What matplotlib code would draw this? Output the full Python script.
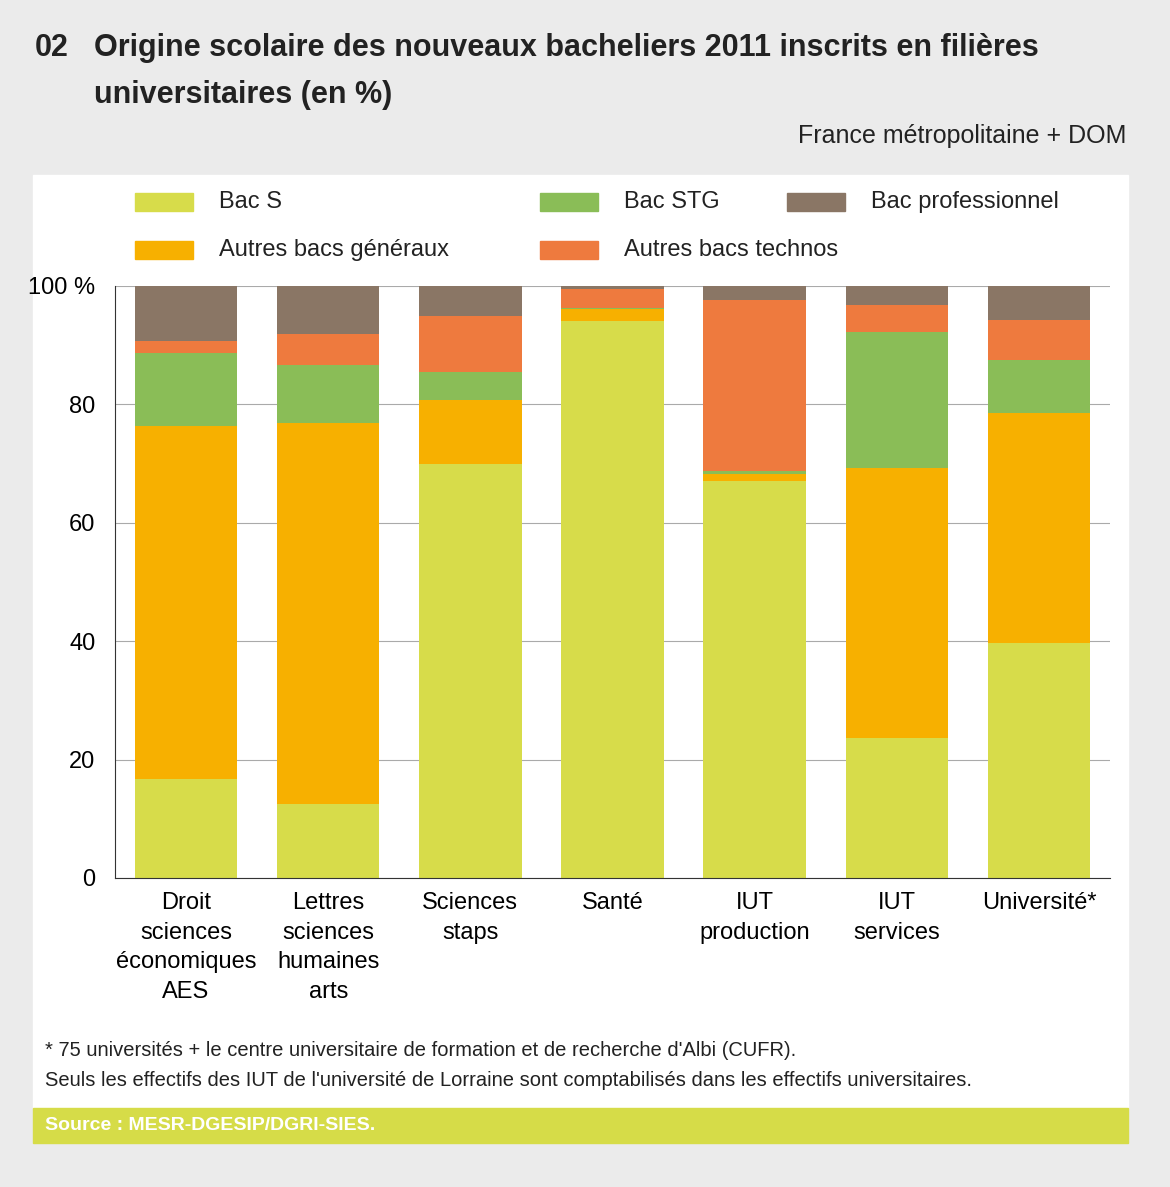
import matplotlib.pyplot as plt
import matplotlib.patches as mpatches
import numpy as np

plt.rcParams['font.family'] = ['Liberation Sans', 'DejaVu Sans']

categories = ['Droit\nsciences\néconomiques\nAES', 'Lettres\nsciences\nhumaines\narts',
              'Sciences\nstaps', 'Santé', 'IUT\nproduction', 'IUT\nservices', 'Université*']
bac_s = [16.7, 12.5, 69.9, 94.1, 67.1, 23.6, 39.7]
autres_gen = [59.7, 64.4, 10.8, 2.0, 1.1, 45.7, 38.8]
bac_stg = [12.3, 9.8, 4.8, 0.2, 0.6, 22.9, 9.0]
autres_techno = [2.0, 5.2, 9.4, 3.2, 28.8, 4.6, 6.8]
bac_pro = [9.3, 8.1, 5.1, 0.5, 2.4, 3.2, 5.7]

series = [('Bac S', bac_s, '#d7dc4a'), ('Autres bacs généraux', autres_gen, '#f7b000'),
          ('Bac STG', bac_stg, '#8abd57'), ('Autres bacs technos', autres_techno, '#ee7a3e'),
          ('Bac professionnel', bac_pro, '#8a7665')]

W, H = 1170, 1187
fig = plt.figure(figsize=(W / 100, H / 100), dpi=100, facecolor='#ebebeb')

def fx(px):
    return px / W

def fy(py):
    return 1 - py / H

# white panel and source band, behind the axes
fig.patches.append(mpatches.Rectangle((fx(33), fy(1108)), fx(1095), 933 / H, transform=fig.transFigure,
                                      color='white', zorder=-5))
fig.patches.append(mpatches.Rectangle((fx(33), fy(1143)), fx(1095), 35 / H, transform=fig.transFigure,
                                      color='#d6dc48', zorder=-5))

fig.text(fx(35), fy(48), '02', fontsize=22, fontweight='bold', va='center', color='#222222')
fig.text(fx(94), fy(48), 'Origine scolaire des nouveaux bacheliers 2011 inscrits en filières',
         fontsize=22, fontweight='bold', va='center', color='#222222')
fig.text(fx(94), fy(95), 'universitaires (en %)', fontsize=22, fontweight='bold', va='center', color='#222222')
fig.text(fx(1126), fy(136), 'France métropolitaine + DOM', fontsize=18, ha='right', va='center', color='#222222')

ax = fig.add_axes([fx(115), fy(878), fx(995), (878 - 286) / H])
ax.set_facecolor('none')
x = np.arange(len(categories))
bottom = np.zeros(len(categories))
for name, vals, col in series:
    ax.bar(x, vals, bottom=bottom, width=0.72, color=col, zorder=2)
    bottom += np.array(vals)

ax.set_ylim(0, 100)
ax.set_xlim(-0.5, len(categories) - 0.5)
ax.set_yticks([0, 20, 40, 60, 80, 100])
ax.set_yticklabels(['0', '20', '40', '60', '80', '100 %'], fontsize=17)
ax.set_xticks(x)
ax.set_xticklabels(categories, fontsize=17, linespacing=1.45, va='top')
ax.tick_params(axis='y', length=0, pad=14)
ax.tick_params(axis='x', length=0, pad=10)
ax.yaxis.grid(True, color='#aaaaaa', linewidth=0.8, zorder=0)
ax.set_axisbelow(True)
for s in ['top', 'right']:
    ax.spines[s].set_visible(False)
ax.spines['left'].set_color('#333333')
ax.spines['bottom'].set_color('#333333')

# legend
legend_pos = [('Bac S', 135, 202), ('Bac STG', 540, 202), ('Bac professionnel', 787, 202),
              ('Autres bacs généraux', 135, 250), ('Autres bacs technos', 540, 250)]
colors = {n: c for n, _, c in series}
for name, px, py in legend_pos:
    fig.patches.append(mpatches.Rectangle((fx(px), fy(py + 9)), fx(58), 18 / H, transform=fig.transFigure,
                                          color=colors[name]))
    fig.text(fx(px + 84), fy(py), name, fontsize=17, va='center', color='#222222')

fig.text(fx(45), fy(1051), "* 75 universités + le centre universitaire de formation et de recherche d'Albi (CUFR).",
         fontsize=14.5, va='center', color='#222222')
fig.text(fx(45), fy(1081), "Seuls les effectifs des IUT de l'université de Lorraine sont comptabilisés dans les effectifs universitaires.",
         fontsize=14.5, va='center', color='#222222')
fig.text(fx(45), fy(1126), 'Source : MESR-DGESIP/DGRI-SIES.', fontsize=14, fontweight='bold',
         va='center', color='white')

fig.savefig('out.png', dpi=100, facecolor=fig.get_facecolor())
